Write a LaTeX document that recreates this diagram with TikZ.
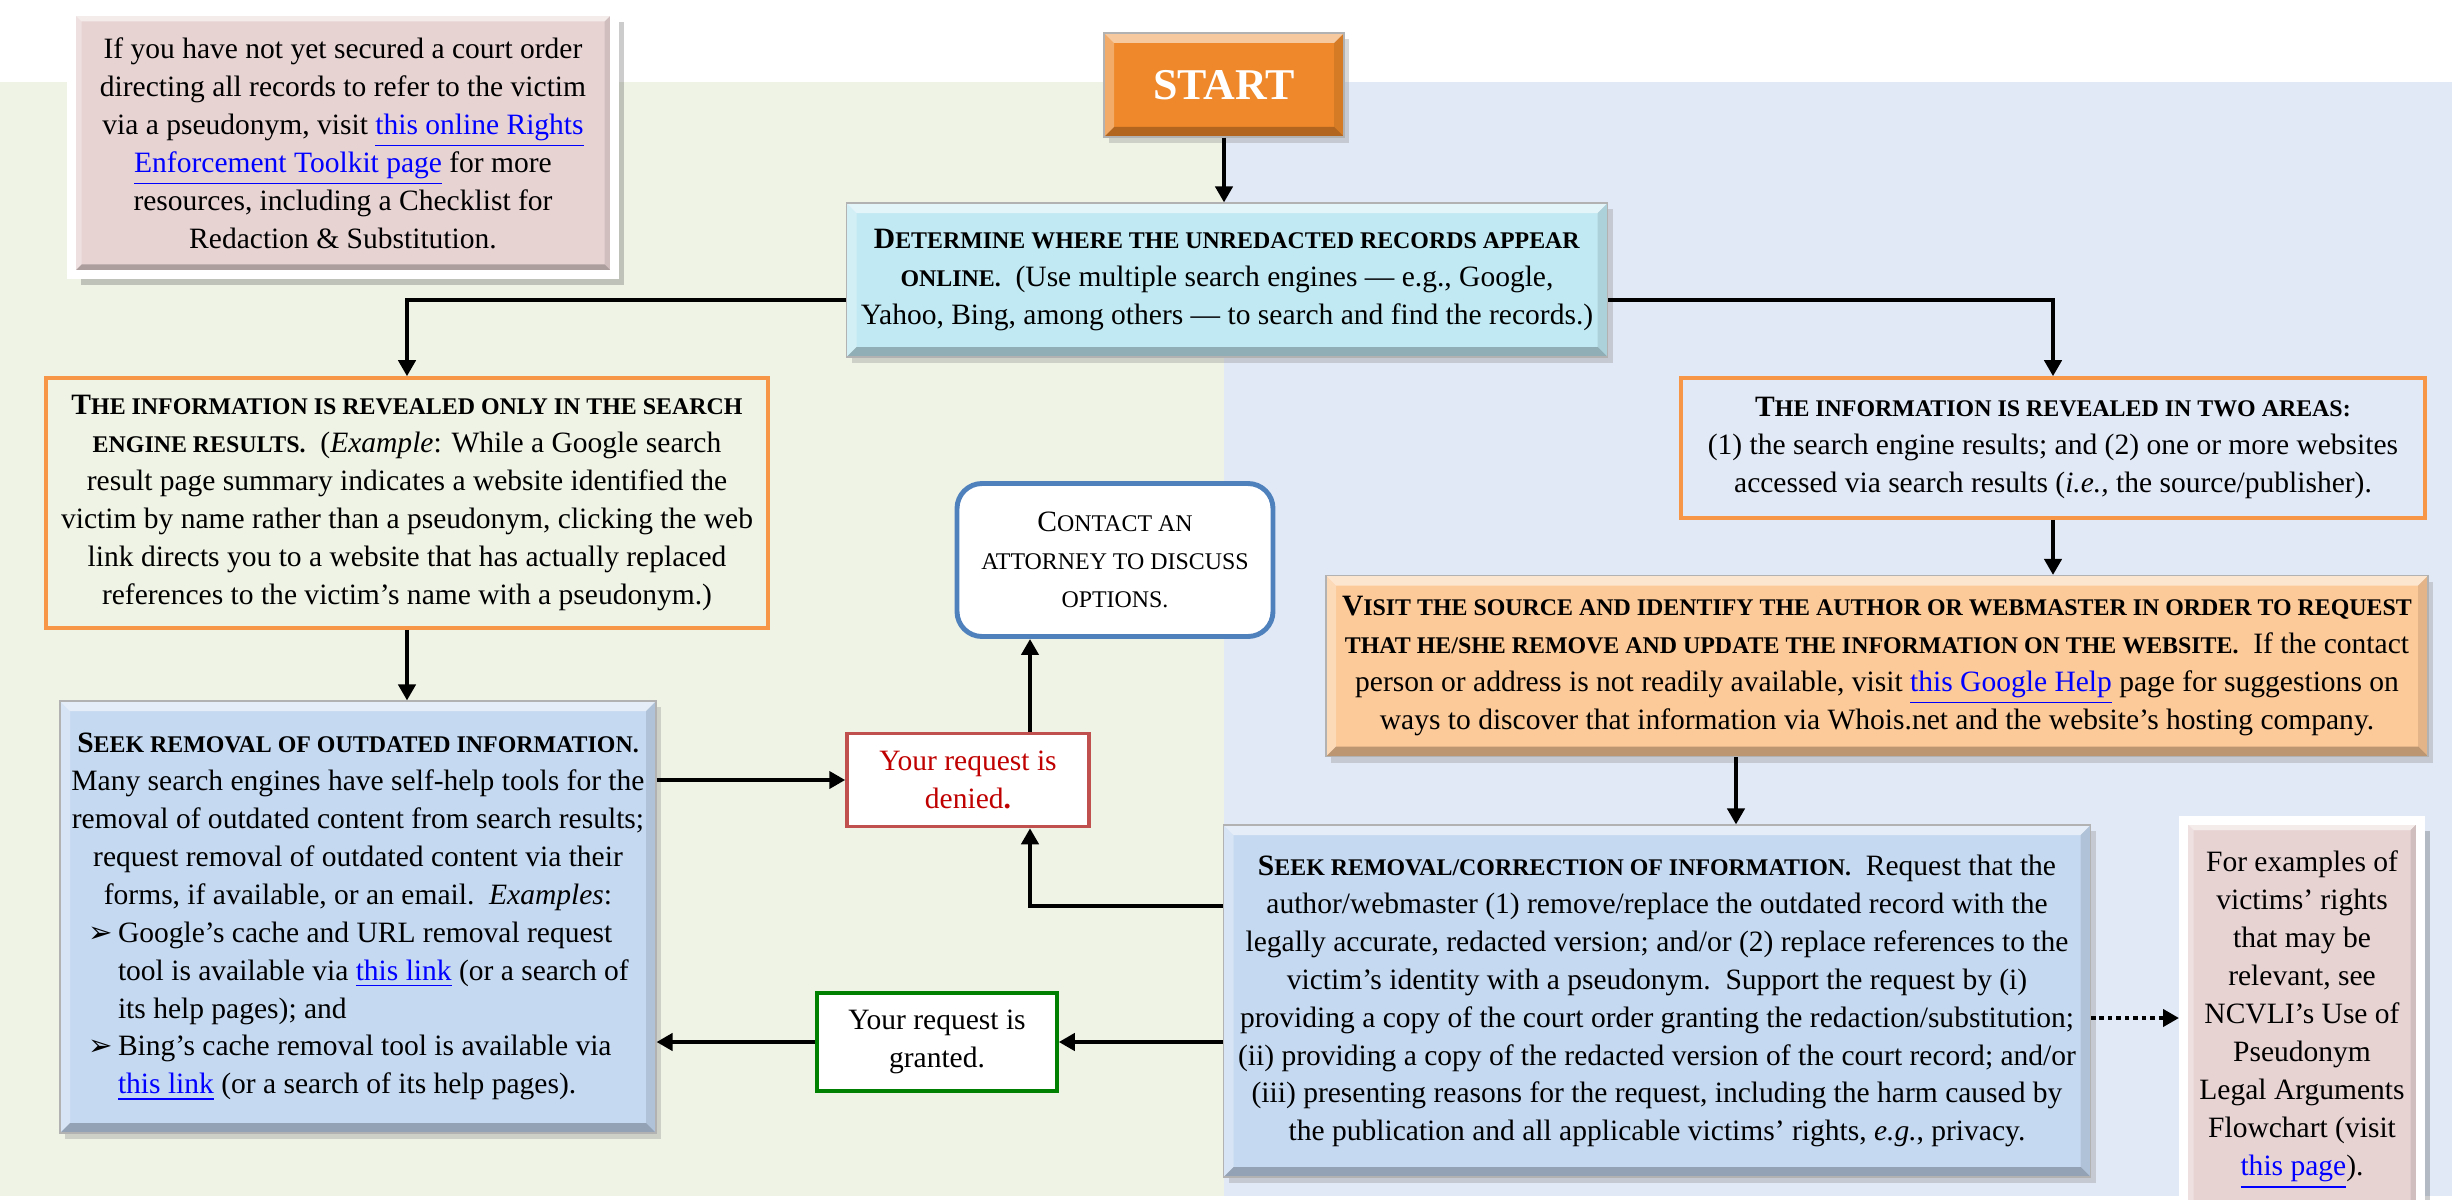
\documentclass[tikz,border=0pt]{standalone}
\usepackage{fontspec}
\setmainfont{Liberation Serif}
\newfontfamily\symfont{DejaVu Sans}
\usetikzlibrary{arrows.meta,shadows}

\definecolor{leftbg}{RGB}{239,243,230}
\definecolor{rightbg}{RGB}{226,233,246}
\definecolor{notepink}{RGB}{232,211,211}
\definecolor{startorange}{RGB}{238,136,42}
\definecolor{findcyan}{RGB}{193,233,243}
\definecolor{infoorange}{RGB}{247,150,70}
\definecolor{visitpeach}{RGB}{252,201,152}
\definecolor{seekblue}{RGB}{197,217,241}
\definecolor{deniedred}{RGB}{192,0,0}
\definecolor{deniedframe}{RGB}{192,80,77}
\definecolor{grantedgreen}{RGB}{0,128,0}
\definecolor{contactblue}{RGB}{79,129,189}
\definecolor{linkblue}{RGB}{0,0,255}

% fake small caps, link text and bullet lines
\newcommand{\smc}[1]{{\fontsize{6.8}{10.8}\selectfont #1}}
\newcommand{\weblink}[1]{\textcolor{linkblue}{\underline{#1}}}
\newcommand{\bulletmark}{{\symfont\fontsize{8.3}{10.8}\selectfont ➢}}
\newcommand{\itemline}[1]{\makebox[57.2mm][l]{\hspace{1.6mm}\makebox[3mm][l]{\bulletmark}#1}}
\newcommand{\moreline}[1]{\makebox[57.2mm][l]{\hspace{4.6mm}#1}}

\tikzset{
  bevel/.style={path picture={
    \path (path picture bounding box.south west) coordinate (bsw)
          (path picture bounding box.north west) coordinate (bnw)
          (path picture bounding box.north east) coordinate (bne)
          (path picture bounding box.south east) coordinate (bse);
    \fill[white,opacity=.55] (bnw) -- (bne) -- ([shift={(-1mm,-1mm)}]bne) -- ([shift={(1mm,-1mm)}]bnw) -- cycle;
    \fill[white,opacity=.3] (bsw) -- (bnw) -- ([shift={(1mm,-1mm)}]bnw) -- ([shift={(1mm,1mm)}]bsw) -- cycle;
    \fill[black,opacity=.1] (bne) -- (bse) -- ([shift={(-1mm,1mm)}]bse) -- ([shift={(-1mm,-1mm)}]bne) -- cycle;
    \fill[black,opacity=.25] (bsw) -- (bse) -- ([shift={(-1mm,1mm)}]bse) -- ([shift={(1mm,1mm)}]bsw) -- cycle;
  }}
}

\begin{document}
\begin{tikzpicture}[x=0.1mm,y=0.1mm,font=\fontsize{8.4}{10.8}\selectfont]
\tikzstyle{box}=[inner sep=0pt,align=center]
\tikzstyle{raised}=[box,bevel,draw=black!30,line width=0.3pt,
  drop shadow={shadow xshift=0.5mm,shadow yshift=-0.6mm,opacity=0.3}]
\tikzstyle{card}=[box,bevel,fill=notepink,draw=white,line width=0.9mm,
  drop shadow={shadow xshift=0.9mm,shadow yshift=-1.1mm,opacity=0.2,draw=none,fill=black}]
\tikzstyle{outline}=[box,draw=infoorange,line width=1pt]
\tikzstyle{answer}=[box,fill=white,line width=1pt]
\tikzstyle{flow}=[line width=1.2pt,-{Triangle[length=1.6mm,width=1.7mm]}]

\clip (0,0) rectangle (2460,-1200);
\fill[white] (0,0) rectangle (2460,-1200);
\fill[leftbg] (0,-82) rectangle (1224,-1196);
\fill[rightbg] (1224,-82) rectangle (2452,-1196);

% side notes
\node[card,minimum width=54.3mm,minimum height=26.3mm] (note) at (343,-143)
  {If you have not yet secured a court order\\
   directing all records to refer to the victim\\
   via a pseudonym, visit \weblink{this online Rights}\\
   \weblink{Enforcement Toolkit page} for more\\
   resources, including a Checklist for\\
   Redaction \& Substitution.};
\node[card,minimum width=23.7mm,minimum height=40mm] (rights) at (2302,-1020)
  {For examples of\\ victims' rights\\ that may be\\ relevant, see\\
   NCVLI's Use of\\ Pseudonym\\ Legal Arguments\\ Flowchart (visit\\
   \weblink{this page}).};

% main steps
\node[raised,fill=startorange,text=white,minimum width=24mm,minimum height=10.4mm,
  font=\fontsize{12.5}{14}\selectfont\bfseries] (start) at (1224,-85) {START};

\node[raised,fill=findcyan,minimum width=76.1mm,minimum height=15.4mm] (find) at (1227,-280)
  {\textbf{D\smc{ETERMINE WHERE THE UNREDACTED RECORDS APPEAR}}\\
   \textbf{\smc{ONLINE.}}\ \ (Use multiple search engines — e.g., Google,\\
   Yahoo, Bing, among others — to search and find the records.)};

\node[outline,minimum width=72.2mm,minimum height=25mm] (onlysearch) at (407,-503)
  {\textbf{T\smc{HE INFORMATION IS REVEALED ONLY IN THE SEARCH}}\\
   \textbf{\smc{ENGINE RESULTS.}}\ \ (\textit{Example}: While a Google search\\
   result page summary indicates a website identified the\\
   victim by name rather than a pseudonym, clicking the web\\
   link directs you to a website that has actually replaced\\
   references to the victim's name with a pseudonym.)};

\node[outline,minimum width=74.4mm,minimum height=14mm] (twoareas) at (2053,-448)
  {\textbf{T\smc{HE INFORMATION IS REVEALED IN TWO AREAS:}}\\
   (1) the search engine results; and (2) one or more websites\\
   accessed via search results (\textit{i.e.,} the source/publisher).};

\node[raised,fill=visitpeach,minimum width=110.2mm,minimum height=18.1mm] (visit) at (1877,-666)
  {\textbf{V\smc{ISIT THE SOURCE AND IDENTIFY THE AUTHOR OR WEBMASTER IN ORDER TO REQUEST}}\\
   \textbf{\smc{THAT HE/SHE REMOVE AND UPDATE THE INFORMATION ON THE WEBSITE.}}\ \ If the contact\\
   person or address is not readily available, visit \weblink{this Google Help} page for suggestions on\\
   ways to discover that information via Whois.net and the website's hosting company.};

\node[raised,fill=seekblue,minimum width=59.6mm,minimum height=43.2mm] (seekold) at (358,-917)
  {\textbf{S\smc{EEK REMOVAL OF OUTDATED INFORMATION.}}\\
   Many search engines have self-help tools for the\\
   removal of outdated content from search results;\\
   request removal of outdated content via their\\
   forms, if available, or an email.\ \ \textit{Examples}:\\
   \itemline{Google's cache and URL removal request}\\
   \moreline{tool is available via \weblink{this link} (or a search of}\\
   \moreline{its help pages); and}\\
   \itemline{Bing's cache removal tool is available via}\\
   \moreline{\weblink{this link} (or a search of its help pages).}};

\node[raised,fill=seekblue,minimum width=86.7mm,minimum height=35.2mm] (seeknew) at (1657,-1001)
  {\textbf{S\smc{EEK REMOVAL/CORRECTION OF INFORMATION.}}\ \ Request that the\\
   author/webmaster (1) remove/replace the outdated record with the\\
   legally accurate, redacted version; and/or (2) replace references to the\\
   victim's identity with a pseudonym.\ \ Support the request by (i)\\
   providing a copy of the court order granting the redaction/substitution;\\
   (ii) providing a copy of the redacted version of the court record; and/or\\
   (iii) presenting reasons for the request, including the harm caused by\\
   the publication and all applicable victims' rights, \textit{e.g.}, privacy.};

% outcomes
\node[answer,draw=deniedframe,text=deniedred,minimum width=24.2mm,minimum height=9.3mm] (denied) at (968,-780)
  {Your request is\\ denied\textbf{.}};
\node[answer,draw=grantedgreen,minimum width=24mm,minimum height=9.8mm] (granted) at (937,-1042)
  {Your request is\\ granted.};
\node[answer,draw=contactblue,line width=1.4pt,rounded corners=2.5mm,
  minimum width=31.6mm,minimum height=15.3mm] (contact) at (1115,-560)
  {C\smc{ONTACT AN}\\ \smc{ATTORNEY TO DISCUSS}\\ \smc{OPTIONS.}};

% connectors
\coordinate (visitdrop) at ([xshift=-14.1mm]visit.south);
\coordinate (deniedfoot) at ([xshift=6.2mm]denied.south);
\coordinate (deniedtop) at ([xshift=6.2mm]denied.north);
\coordinate (dotstart) at ([yshift=-1.7mm]seeknew.east);

\draw[flow] (start) -- (start |- find.north);
\draw[flow] ([yshift=-2mm]find.west) -| (onlysearch.north);
\draw[flow] ([yshift=-2mm]find.east) -| (twoareas.north);
\draw[flow] (onlysearch.south) -- (onlysearch.south |- seekold.north);
\draw[flow] (twoareas.south) -- (twoareas.south |- visit.north);
\draw[flow] (visitdrop) -- (visitdrop |- seeknew.north);
\draw[flow] (seekold.east |- denied.west) -- (denied.west);
\draw[flow] ([yshift=9.5mm]seeknew.west) -| (deniedfoot);
\draw[flow] (deniedtop) -- (deniedtop |- contact.south);
\draw[flow] (seeknew.west |- granted.east) -- (granted.east);
\draw[flow] (granted.west) -- (granted.west -| seekold.east);
\draw[flow,dash pattern=on 1.3pt off 1.1pt] (dotstart) -- (dotstart -| rights.west);

\end{tikzpicture}
\end{document}
